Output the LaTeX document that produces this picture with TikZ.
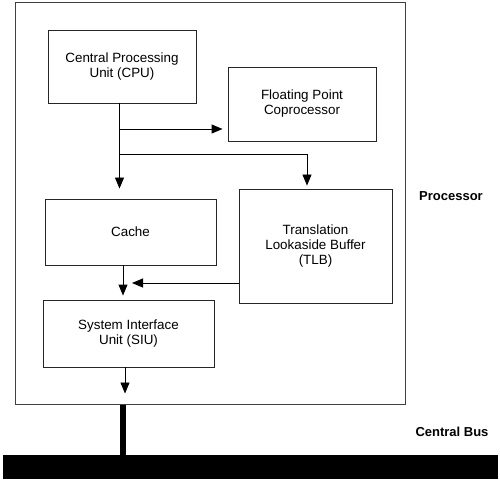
\documentclass[tikz,border=0pt]{standalone}
\usepackage{fontspec}
\setmainfont{Liberation Sans}
\usetikzlibrary{arrows.meta,calc}
\begin{document}
\begin{tikzpicture}[x=1pt,y=-1pt,
  blk/.style={draw=black!85,line width=0.9pt,rectangle,inner sep=0pt,align=center,
    font=\fontsize{13.4}{15}\selectfont},
  arr/.style={draw=black,line width=0.9pt,-{Triangle[length=11pt,width=9pt]}},
  ln/.style={draw=black,line width=0.9pt},
  lbl/.style={font=\fontsize{13}{15}\selectfont\bfseries}]
\useasboundingbox (0,0) rectangle (500,481);
\node[draw=black!75,line width=1pt,minimum width=390,minimum height=401,inner sep=0pt] (proc) at (210,203.5) {};
\node[blk,minimum width=148,minimum height=73] (cpu) at (122,66.5) {Central Processing\\Unit (CPU)};
\node[blk,minimum width=148,minimum height=74] (fpc) at (302,104) {Floating Point\\Coprocessor};
\node[blk,minimum width=171,minimum height=66] (cache) at (130.5,232) {Cache};
\node[blk,minimum width=153,minimum height=114] (tlb) at (315.5,246) {Translation\\Lookaside Buffer\\(TLB)};
\node[blk,minimum width=171,minimum height=67] (siu) at (128.5,333.5) {System Interface\\Unit (SIU)};
\node[fill=black,minimum width=495,minimum height=24,inner sep=0pt] (bus) at (250.5,467) {};
\node[lbl] (plbl) at (451,196) {Processor};
\node[lbl] (blbl) at (452,432) {Central Bus};
% connectors
\coordinate (c0) at (119.5,0);
\coordinate (j1) at (119.5,129);
\coordinate (j2) at (119.5,154);
\coordinate (t0) at (307,154);
\draw[arr,shorten >=10pt] (c0 |- cpu.south) -- (c0 |- cache.north);
\draw[arr,shorten >=5pt] (j1) -- (j1 -| fpc.west);
\draw[arr,shorten >=3pt] (j2) -- (t0) -- (t0 |- tlb.north);
\coordinate (s0) at (123,0);
\draw[arr,shorten >=4pt] (s0 |- cache.south) -- (s0 |- siu.north);
\coordinate (tl) at (0,283);
\coordinate (tend) at (132,283);
\draw[arr] (tl -| tlb.west) -- (tend);
\coordinate (s1) at (125,0);
\draw[arr,shorten >=11pt] (s1 |- siu.south) -- (s1 |- proc.south);
\coordinate (b0) at (123,0);
\draw[line width=6pt] (b0 |- proc.south) -- (b0 |- bus.north);
\end{tikzpicture}
\end{document}
